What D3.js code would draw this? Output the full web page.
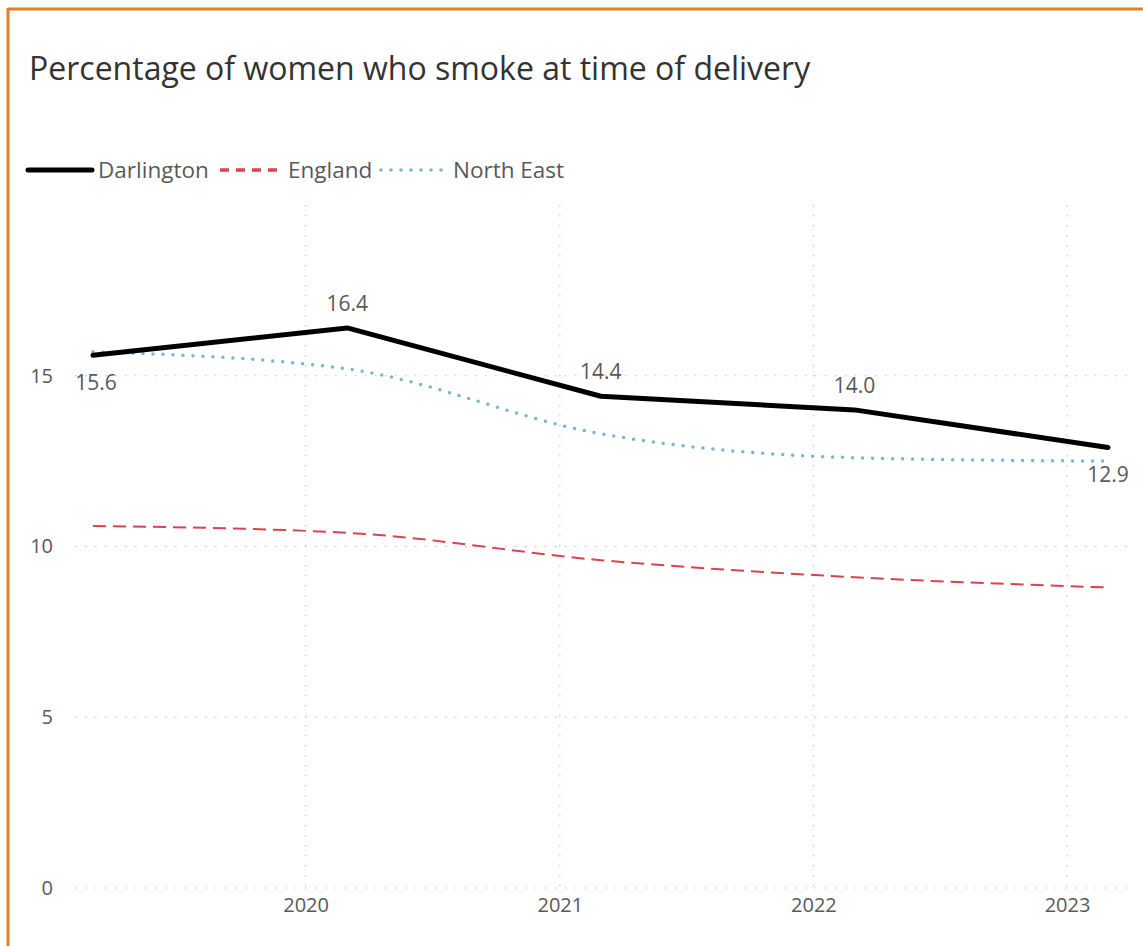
<!DOCTYPE html>
<html>
<head>
<meta charset="utf-8">
<script src="https://cdn.jsdelivr.net/npm/d3@7"></script>
<style>
  body { margin: 0; background: #fff; }
  svg text { font-family: "Open Sans", "Noto Sans", sans-serif; }
</style>
</head>
<body>
<svg id="chart" width="1143" height="946"></svg>
<script>
// data
var periods = ["2019-03-01", "2020-03-01", "2021-03-01", "2022-03-01", "2023-03-01"];
var darlington = [15.6, 16.4, 14.4, 14.0, 12.9];
var england = [10.6, 10.4, 9.6, 9.1, 8.8];
var northEast = [15.7, 15.2, 13.3, 12.6, 12.5];
var yTicks = [0, 5, 10, 15];
var xTicks = ["2020-01-01", "2021-01-01", "2022-01-01", "2023-01-01"];
var labelPos = ["below", "above", "above", "above", "below"];

var parse = d3.timeParse("%Y-%m-%d");
var dates = periods.map(parse);

var svg = d3.select("#chart");

// orange frame (left + top)
svg.append("line").attr("x1", 8).attr("x2", 8).attr("y1", 8).attr("y2", 946)
  .attr("stroke", "#e67e22").attr("stroke-width", 3);
svg.append("line").attr("x1", 8).attr("x2", 1143).attr("y1", 9).attr("y2", 9)
  .attr("stroke", "#e67e22").attr("stroke-width", 3);

var x = d3.scaleTime()
  .domain([dates[0], dates[4]])
  .range([93, 1108]);

var y = d3.scaleLinear()
  .domain([0, 20])
  .range([888, 205]);

// gridlines
var grid = svg.append("g");
grid.selectAll(".hgrid")
  .data(yTicks)
  .enter()
  .append("line")
  .attr("x1", 75).attr("x2", 1127)
  .attr("y1", function(d) { return y(d); })
  .attr("y2", function(d) { return y(d); })
  .attr("stroke", "#bdbdbd")
  .attr("stroke-dasharray", "1.5,8.5");

grid.selectAll(".vgrid")
  .data(xTicks.map(parse))
  .enter()
  .append("line")
  .attr("x1", function(d) { return x(d); })
  .attr("x2", function(d) { return x(d); })
  .attr("y1", y(20)).attr("y2", y(0))
  .attr("stroke", "#bdbdbd")
  .attr("stroke-dasharray", "1.5,8.5");

// axes
var yAxis = d3.axisLeft(y).tickValues(yTicks).tickSize(0).tickPadding(0);
var gy = svg.append("g").attr("transform", "translate(53,0)").call(yAxis);
gy.select(".domain").remove();
gy.selectAll("text").attr("font-size", 20).attr("fill", "#595959")
  .style("font-family", "'Open Sans', sans-serif");

var xAxis = d3.axisBottom(x).tickValues(xTicks.map(parse))
  .tickFormat(d3.timeFormat("%Y")).tickSize(0).tickPadding(0);
var gx = svg.append("g").attr("transform", "translate(0,898)").call(xAxis);
gx.select(".domain").remove();
gx.selectAll("text").attr("font-size", 20).attr("fill", "#595959")
  .style("font-family", "'Open Sans', sans-serif");

// lines
var smooth = d3.line()
  .curve(d3.curveMonotoneX)
  .x(function(d, i) { return x(dates[i]); })
  .y(function(d) { return y(d); });

var straight = d3.line()
  .x(function(d, i) { return x(dates[i]); })
  .y(function(d) { return y(d); });

svg.append("path").datum(england)
  .attr("d", smooth).attr("fill", "none")
  .attr("stroke", "#d9434e").attr("stroke-width", 2)
  .attr("stroke-dasharray", "13,7");

svg.append("path").datum(northEast)
  .attr("d", smooth).attr("fill", "none")
  .attr("stroke", "#75b7cf").attr("stroke-width", 3.5)
  .attr("stroke-linecap", "round")
  .attr("stroke-dasharray", "0,10");

svg.append("path").datum(darlington)
  .attr("d", straight).attr("fill", "none")
  .attr("stroke", "#000").attr("stroke-width", 5)
  .attr("stroke-linecap", "round").attr("stroke-linejoin", "round");

// data labels
svg.selectAll(".dlabel")
  .data(darlington)
  .enter()
  .append("text")
  .attr("x", function(d, i) { return x(dates[i]) + (i == 0 ? 3 : 0); })
  .attr("y", function(d, i) { return labelPos[i] == "above" ? y(d) - 17 : y(d) + 35; })
  .attr("text-anchor", "middle")
  .attr("font-size", 21)
  .attr("fill", "#595959")
  .text(function(d) { return d.toFixed(1); });

// title
svg.append("text")
  .attr("x", 29).attr("y", 80)
  .attr("font-size", 32)
  .attr("fill", "#333")
  .text("Percentage of women who smoke at time of delivery");

// legend
var legend = [
  { name: "Darlington", x: 28, w: 64, color: "#000", width: 5, dash: null, cap: "round" },
  { name: "England", x: 220, w: 62, color: "#d9434e", width: 3.5, dash: "9,7", cap: "butt" },
  { name: "North East", x: 381, w: 66, color: "#75b7cf", width: 3.5, dash: "0,10", cap: "round" }
];
var lg = svg.append("g");
legend.forEach(function(l) {
  lg.append("line")
    .attr("x1", l.x).attr("x2", l.x + l.w)
    .attr("y1", 170).attr("y2", 170)
    .attr("stroke", l.color).attr("stroke-width", l.width)
    .attr("stroke-linecap", l.cap)
    .attr("stroke-dasharray", l.dash);
  lg.append("text")
    .attr("x", l.x + l.w + 6).attr("y", 178)
    .attr("font-size", 22.5).attr("fill", "#595959")
    .text(l.name);
});
</script>
</body>
</html>
